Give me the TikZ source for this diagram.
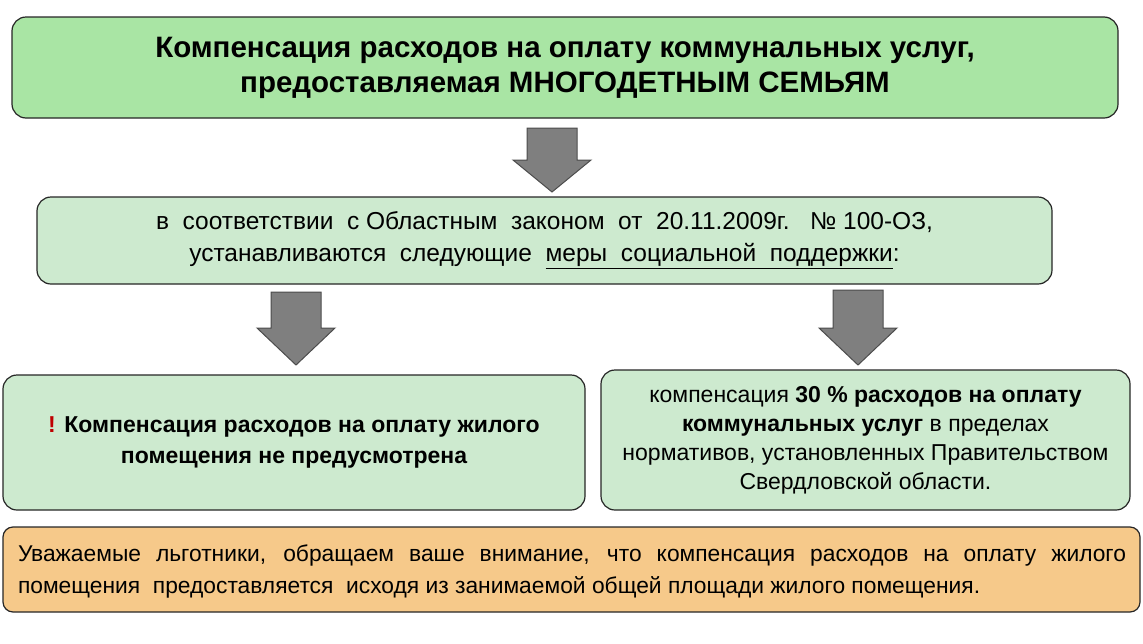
\documentclass[tikz,border=0pt]{standalone}
\usepackage{fontspec}
\setmainfont{Liberation Sans}
\definecolor{g1}{HTML}{A9E5A4}
\definecolor{g2}{HTML}{CDEACF}
\definecolor{or}{HTML}{F6C98A}
\definecolor{ar}{HTML}{7F7F7F}
\begin{document}
\begin{tikzpicture}[x=1pt,y=-1pt,
 box/.style={draw=black!85,line width=1.2pt,rounded corners=14pt,inner sep=0pt},
 arr/.style={draw=black!70,fill=ar,line width=1pt,line join=miter}]
\useasboundingbox (0,0) rectangle (1143,643);
\newcommand\blockarrow[4]{% cx, top, headstart, tip
 \path[arr] (#1-25,#2) -- (#1+25,#2) -- (#1+25,#3) -- (#1+39,#3) -- (#1,#4) -- (#1-39,#3) -- (#1-25,#3) -- cycle;}
\node[box,fill=g1,minimum width=1106pt,minimum height=101pt,align=center,font=\bfseries\fontsize{29.5}{35}\selectfont] (t) at (565,67.5) {Компенсация расходов на оплату коммунальных услуг,\\ предоставляемая МНОГОДЕТНЫМ СЕМЬЯМ};
\node[box,fill=g2,minimum width=1015pt,minimum height=87pt,align=center,font=\fontsize{24.5}{32}\selectfont] (m) at (544.5,240.5) {в\ \ соответствии\ \ с Областным\ \ законом\ \ от\ \ 20.11.2009г.\ \ \ № 100-ОЗ,\\ устанавливаются\ \ следующие\ \ \underline{меры\ \ социальной\ \ поддержки}:};
\node[box,fill=g2,minimum width=582pt,minimum height=135pt,align=center,font=\bfseries\fontsize{23}{31}\selectfont] (l) at (294,442.5) {{\color{red!75!black}!} Компенсация расходов на оплату жилого\\ помещения не предусмотрена};
\node[box,fill=g2,minimum width=529pt,minimum height=140pt,align=center,font=\fontsize{23}{29}\selectfont] (r) at (865.5,440) {компенсация \textbf{30 \% расходов на оплату}\\ \textbf{коммунальных услуг} в пределах\\ нормативов, установленных Правительством\\ Свердловской области.};
\node[box,fill=or,rounded corners=10pt,minimum width=1137pt,minimum height=85pt] (b) at (571.5,569.5) {};
\node[text width=1108pt,align=justify,font=\fontsize{22.8}{32}\selectfont,inner sep=0pt] (bt) at (572,571) {Уважаемые льготники, обращаем ваше внимание, что компенсация расходов на оплату жилого\linebreak помещения\ \ предоставляется\ \ исходя из занимаемой общей площади жилого помещения.\par};
\blockarrow{552}{128}{160}{192}
\blockarrow{296}{292}{328}{365}
\blockarrow{858}{290}{328}{365}
\end{tikzpicture}
\end{document}
